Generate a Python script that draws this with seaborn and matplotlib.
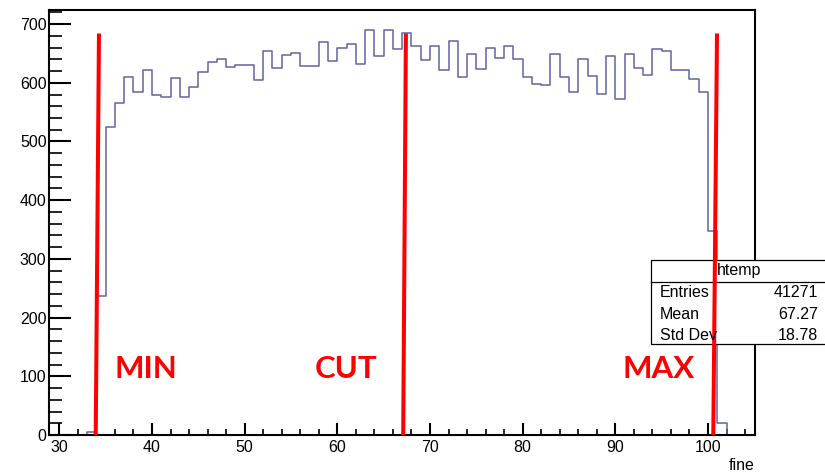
"""
ROOT-style histogram of the 'fine' counter with MIN / CUT / MAX markers
"""

import numpy as np
import pandas as pd
import matplotlib
matplotlib.use("Agg")
import matplotlib.pyplot as plt
from matplotlib.ticker import MultipleLocator
from matplotlib.patches import Rectangle
import seaborn as sns

# 1. Data
bin_lo = 32          # first bin edge, bins are 1 wide
counts = [
    0, 5, 237, 525, 565, 610, 585, 621, 579, 576,
    608, 576, 593, 618, 635, 641, 627, 630, 630, 604,
    655, 625, 648, 651, 629, 629, 669, 637, 659, 666,
    632, 690, 646, 690, 658, 684, 663, 638, 663, 621,
    672, 610, 649, 624, 660, 643, 663, 641, 610, 598,
    596, 649, 610, 584, 641, 612, 581, 646, 573, 649,
    625, 613, 658, 655, 621, 621, 607, 584, 348, 20, 0,
]
cut_names  = ["MIN", "CUT", "MAX"]
cut_bottom = [33.93, 67.11, 100.57]
cut_top    = [34.28, 67.40, 100.97]
cut_height = 684
label_x    = [39.35, 60.94, 94.68]
label_y    = 113

stats_title  = "htemp"
stats_labels = ["Entries", "Mean", "Std Dev"]
stats_values = ["41271", "67.27", "18.78"]

x_range = (28.92, 105.07)
y_range = (0, 724)

edges   = [float(bin_lo + i) for i in range(len(counts) + 1)]
centers = [e + 0.5 for e in edges[:-1]]
df = pd.DataFrame({"fine": centers, "n": counts})

# 2. Plot
HIST_BLUE = "#5f63a2"
RED       = "#ff0000"
plt.rcParams["font.family"] = ["Liberation Sans", "DejaVu Sans"]

fig = plt.figure(figsize=(8.25, 4.72), dpi=100)
ax = fig.add_axes([49.3 / 825, 1 - 435 / 472, (755 - 49.3) / 825, (435 - 10) / 472])

sns.histplot(data=df, x="fine", weights="n", bins=edges, element="step",
             fill=False, color=HIST_BLUE, linewidth=1.1, ax=ax)

ax.set_xlim(*x_range)
ax.set_ylim(*y_range)
ax.set_ylabel("")
ax.set_xlabel("fine", fontsize=11.5, loc="right")
ax.xaxis.set_label_coords(1.0, -30 / 425)
ax.xaxis.label.set_va("center")

for s in ax.spines.values():
    s.set_linewidth(1.5)
ax.xaxis.set_major_locator(MultipleLocator(10))
ax.xaxis.set_minor_locator(MultipleLocator(2))
ax.yaxis.set_major_locator(MultipleLocator(100))
ax.yaxis.set_minor_locator(MultipleLocator(20))
ax.tick_params(axis="x", which="major", direction="in", length=9, width=1.5,
               labelsize=11.5, pad=3.5)
ax.tick_params(axis="x", which="minor", direction="in", length=4.5, width=1.2)
ax.tick_params(axis="y", which="major", direction="in", length=16, width=1.5,
               labelsize=11.5, pad=2)
ax.tick_params(axis="y", which="minor", direction="in", length=9, width=1.2)

# stats box (sticks out past the right edge like the original)
ax.add_patch(Rectangle((651 / 825, 1 - 344 / 472), 0.25, (344 - 260) / 472,
                       transform=fig.transFigure, clip_on=False,
                       facecolor="white", edgecolor="black", linewidth=0.9,
                       zorder=4))
ax.plot([651 / 825, 1.0], [1 - 281.7 / 472] * 2, transform=fig.transFigure,
        clip_on=False, color="black", linewidth=0.9, zorder=4.1)
fig.text(739 / 825, 1 - 270 / 472, stats_title, ha="center", va="center",
         fontsize=11.5, zorder=5)
for i, (lab, val) in enumerate(zip(stats_labels, stats_values)):
    yy = 1 - (292.7 + 21.6 * i) / 472
    fig.text(660 / 825, yy, lab, ha="left", va="center", fontsize=11.5, zorder=5)
    fig.text(818 / 825, yy, val, ha="right", va="center", fontsize=11.5, zorder=5)

# red cut markers on top of everything
for name, xb, xt, lx in zip(cut_names, cut_bottom, cut_top, label_x):
    ax.plot([xb, xt], [0, cut_height], color=RED, linewidth=2.9,
            solid_capstyle="butt", zorder=10, clip_on=False)
    ax.text(lx, label_y, name, color=RED, fontsize=22.5, fontweight="bold",
            family=["Lato", "DejaVu Sans"], ha="center", va="center", zorder=10)

fig.savefig("out.png", dpi=100)
plt.close()
